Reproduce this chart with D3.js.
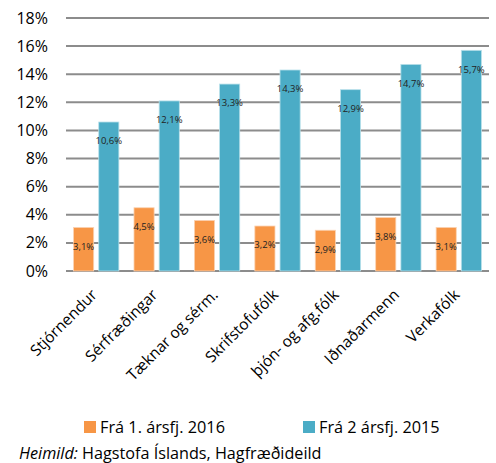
<!DOCTYPE html>
<html>
<head>
<meta charset="utf-8">
<script src="https://cdn.jsdelivr.net/npm/d3@7"></script>
<style>
  body { margin: 0; background: #fff; }
  text { font-family: "Open Sans", "Noto Sans", sans-serif; fill: #000; }
</style>
</head>
<body>
<div id="chart"></div>
<script>
// Data
var categories = ["Stjórnendur", "Sérfræðingar", "Tæknar og sérm.", "Skrifstofufólk", "þjón- og afg.fólk", "Iðnaðarmenn", "Verkafólk"];
var series2016 = [3.1, 4.5, 3.6, 3.2, 2.9, 3.8, 3.1];
var series2015 = [10.6, 12.1, 13.3, 14.3, 12.9, 14.7, 15.7];
var seriesNames = ["Frá 1. ársfj. 2016", "Frá 2 ársfj. 2015"];
var yTicks = [0, 2, 4, 6, 8, 10, 12, 14, 16, 18];

var W = 496, H = 463;
var margin = {top: 18, right: 7, bottom: 192, left: 66};
var width = W - margin.left - margin.right;
var height = H - margin.top - margin.bottom;
var colors = ["#F79646", "#4BACC6"];

var svg = d3.select("#chart").append("svg").attr("width", W).attr("height", H);
var g = svg.append("g").attr("transform", "translate(" + margin.left + "," + margin.top + ")");

var x = d3.scaleBand().domain(categories).range([0, width]).paddingInner(0.25).paddingOuter(0.125);
var x1 = d3.scaleBand().domain([0, 1]).range([0, x.bandwidth()]).paddingInner(0.2);
var y = d3.scaleLinear().domain([0, 18]).range([height, 0]);

// gridlines
g.append("g").selectAll("line").data(yTicks).enter().append("line")
    .attr("x1", 0).attr("x2", width)
    .attr("y1", function(d) { return y(d); }).attr("y2", function(d) { return y(d); })
    .attr("stroke", "#8c8c8c").attr("stroke-width", 2);

// y labels
g.append("g").selectAll("text").data(yTicks).enter().append("text")
    .attr("x", -18).attr("y", function(d) { return y(d); })
    .attr("dy", "0.35em").attr("text-anchor", "end")
    .style("font-size", "16px")
    .text(function(d) { return d + "%"; });

var allSeries = [series2016, series2015];
allSeries.forEach(function(vals, s) {
    var bars = g.append("g");
    bars.selectAll("rect").data(vals).enter().append("rect")
        .attr("x", function(d, i) { return x(categories[i]) + x1(s); })
        .attr("y", function(d) { return y(d); })
        .attr("width", x1.bandwidth())
        .attr("height", function(d) { return height - y(d); })
        .attr("fill", colors[s])
        .attr("stroke", s == 0 ? "#fbd3b3" : "#b9e0ea").attr("stroke-width", 0.8);
    bars.selectAll("text").data(vals).enter().append("text")
        .attr("x", function(d, i) { return x(categories[i]) + x1(s) + x1.bandwidth() / 2; })
        .attr("y", function(d) { return y(d) + 19; })
        .attr("dy", "0.35em").attr("text-anchor", "middle")
        .style("font-size", "9.5px").style("fill", "#222")
        .text(function(d) { return String(d.toFixed(1)).replace(".", ",") + "%"; });
});

// x labels
g.append("g").selectAll("text").data(categories).enter().append("text")
    .attr("transform", function(d) {
        return "translate(" + (x(d) + x.bandwidth() / 2 - 2) + "," + (height + 21) + ") rotate(-45)";
    })
    .attr("text-anchor", "end").attr("dy", "0.35em")
    .style("font-size", "15.5px")
    .text(function(d) { return d; });

// legend
var leg = svg.append("g");
var lx = [84, 303];
seriesNames.forEach(function(n, i) {
    leg.append("rect").attr("x", lx[i]).attr("y", 421).attr("width", 12).attr("height", 12).attr("fill", colors[i]);
    leg.append("text").attr("x", lx[i] + 16).attr("y", 427).attr("dy", "0.35em")
        .style("font-size", "16.3px").text(n);
});

// source
var src = svg.append("text").attr("x", 19).attr("y", 459).style("font-size", "16.2px");
src.append("tspan").style("font-style", "italic").text("Heimild:");
src.append("tspan").text(" Hagstofa Íslands, Hagfræðideild");
</script>
</body>
</html>
